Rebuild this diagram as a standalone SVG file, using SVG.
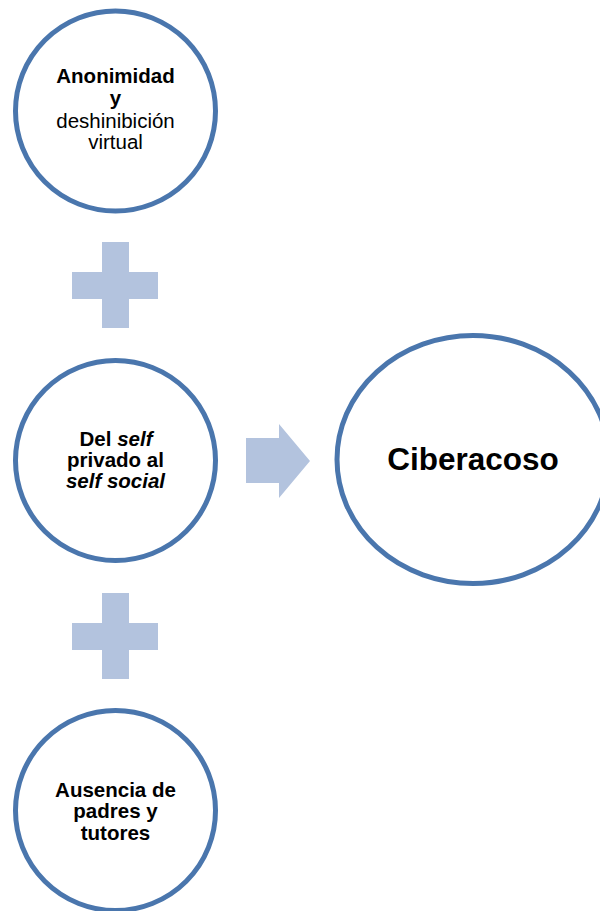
<svg xmlns="http://www.w3.org/2000/svg" width="600" height="911" viewBox="0 0 600 911">
<style>
.node{fill:#ffffff;stroke:#4a76ad;stroke-width:5}
.sym{fill:#b3c3de}
text{font-family:"Liberation Sans",Arial,sans-serif;fill:#000;text-anchor:middle}
.b{font-weight:bold;font-size:20.5px}
.r{font-size:20.5px}
</style>
<rect width="600" height="911" fill="#ffffff"/>
<g id="node-anonimidad">
<circle class="node" cx="115.5" cy="111" r="100"/>
<text class="b" x="115.5" y="83">Anonimidad</text>
<text class="b" x="115.5" y="105">y</text>
<text class="r" x="115.5" y="127.5">deshinibición</text>
<text class="r" x="115.5" y="149">virtual</text>
</g>
<g id="node-self">
<circle class="node" cx="115.5" cy="460.5" r="100"/>
<text class="b" x="116" y="446">Del <tspan font-style="italic">self</tspan></text>
<text class="b" x="115.5" y="467">privado al</text>
<text class="b" x="115.5" y="488" font-style="italic">self social</text>
</g>
<g id="node-ausencia">
<circle class="node" cx="115.5" cy="810.5" r="100"/>
<text class="b" x="115.5" y="797">Ausencia de</text>
<text class="b" x="115.5" y="818">padres y</text>
<text class="b" x="115.5" y="840">tutores</text>
</g>
<g id="node-ciberacoso">
<ellipse class="node" cx="473" cy="459.5" rx="136" ry="124"/>
<text x="473" y="470" font-weight="bold" font-size="31.5px">Ciberacoso</text>
</g>
<g id="connectors">
<path class="sym" d="M102 242H129V272H158V299H129V328H102V299H72V272H102Z"/>
<path class="sym" d="M102 593H129V623H158V650H129V679H102V650H72V623H102Z"/>
<path class="sym" d="M246 438H279V424L310 461L279 498V483H246Z"/>
</g>
</svg>
